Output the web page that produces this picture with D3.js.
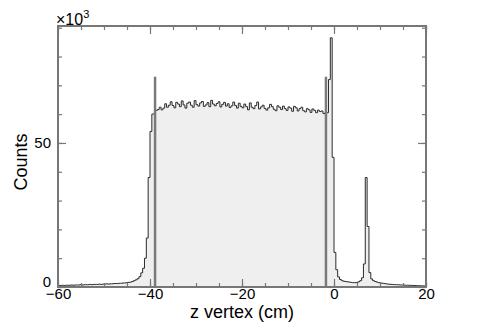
<!DOCTYPE html>
<html><head><meta charset="utf-8">
<script src="https://cdn.jsdelivr.net/npm/d3@7"></script>
<style>
html,body{margin:0;padding:0;background:#fff;}
svg{display:block;font-family:"Liberation Sans",Arial,Helvetica,sans-serif;}
</style></head>
<body><svg id="c" width="485" height="330"></svg>
<script>
// ---- data ----
const binStart = -60;      // cm, lower edge of first bin
const binWidth = 0.4;      // cm
// counts per bin, in units of 10^3
const tailLeft = [
 0.5,0.5,0.6,0.5,0.6,0.6,0.6,0.7,0.6,0.7,
 0.7,0.7,0.8,0.7,0.8,0.8,0.8,0.9,0.8,0.9,
 0.9,0.9,1.0,0.9,1.0,1.0,1.1,1.0,1.1,1.1,
 1.2,1.2,1.2,1.3,1.3,1.4,1.4,1.5,1.6,1.7
];
const edgeLeft = [1.9,2.2,2.5,2.9,3.6,4.9,6.5,10,17,38,54,60];
const plateau = [
 60.2,61.3,61.6,62.4,61.5,62.1,63.6,62.4,63.1,64.3,
 63.0,62.2,64.1,63.5,62.6,64.6,63.2,62.1,63.8,64.2,
 63.1,62.4,64.7,63.3,62.8,63.9,64.4,62.7,63.2,64.0,
 62.6,64.8,63.5,62.9,63.7,64.3,62.5,63.4,64.1,62.8,
 63.6,62.3,62.9,64.2,63.0,62.1,63.8,62.7,62.2,63.5,
 62.6,61.5,63.9,62.4,61.9,63.0,64.2,61.8,62.5,63.1,
 62.0,61.4,62.2,63.4,62.6,61.7,61.2,62.9,62.4,61.6,
 62.8,61.9,61.3,62.5,62.1,61.0,62.7,62.2,61.1,61.9,
 62.4,61.2,60.8,61.9,61.5,60.6,61.8,61.3,60.5,61.4,
 60.9,61.1,60.2,60.5
];
const peakWindow = [60.5,72,86.5,45,12,6,3.5,2.6,2.2,2.0,1.9,1.8,1.7,1.6,1.5,1.5,1.6,1.8,2.2,3.2];
const peakTarget = [8,38,21,5,2.8,2.2,1.9,1.7,1.5,1.4,1.3,1.2,1.1,1.0];
const tailRight = [0.95,0.9,0.85,0.8,0.8,0.75,0.7,0.7,0.65,0.6,
                   0.6,0.55,0.55,0.5,0.5,0.45,0.45,0.4,0.4,0.4];
const counts = [].concat(tailLeft, edgeLeft, plateau, peakWindow, peakTarget, tailRight);

const cutPositions = [-38.9, -1.75];   // cm
const cutHeight = 73;                   // 10^3 counts

const xMajorTicks = [-60,-40,-20,0,20];
const yMajorTicks = [0,50];
const xTitle = "z vertex (cm)";
const yTitle = "Counts";

// ---- drawing ----
const svg = d3.select("#c");
const L=58, R=426, T=26, B=287;
const x = d3.scaleLinear().domain([-60,20]).range([L,R]);
const y = d3.scaleLinear().domain([0,90.6]).range([B,T]);

const bins = counts.map((v,i)=>({lo: binStart+i*binWidth, v}));
bins.push({lo: binStart+counts.length*binWidth, v: counts[counts.length-1]});

const area = d3.area().curve(d3.curveStepAfter)
  .x(d=>x(d.lo)).y0(y(0)).y1(d=>y(d.v));
const line = d3.line().curve(d3.curveStepAfter)
  .x(d=>x(d.lo)).y(d=>y(d.v));

svg.append("path").attr("d", area(bins)).attr("fill","#efefef").attr("stroke","none");
svg.append("path").attr("d", line(bins)).attr("fill","none")
   .attr("stroke","#2a2a2a").attr("stroke-width",1);

svg.selectAll("line.cut").data(cutPositions).enter().append("line")
  .attr("class","cut")
  .attr("x1",d=>x(d)).attr("x2",d=>x(d))
  .attr("y1",y(0)).attr("y2",y(cutHeight))
  .attr("stroke","#7a7a7a").attr("stroke-width",2.5);

// axes (ticks drawn inward on all four sides)
const axColor = "#777";
function styleAxis(g){
  g.select(".domain").remove();
  g.selectAll(".tick line").attr("stroke",axColor).attr("stroke-width",1.2);
}
const xMinor = d3.range(-60,20.001,5);
const yMinor = d3.range(0,90.001,10);

svg.append("g").attr("transform",`translate(0,${B})`)
  .call(d3.axisBottom(x).tickValues(xMinor).tickSize(-4).tickFormat(""))
  .call(styleAxis);
svg.append("g").attr("transform",`translate(0,${B})`)
  .call(d3.axisBottom(x).tickValues(xMajorTicks).tickSize(-8).tickFormat(d3.format("d")))
  .call(styleAxis)
  .call(g=>g.selectAll("text").attr("font-size",15).attr("fill","#000")
        .attr("font-family","Liberation Sans, Arial, sans-serif").attr("dy","0.72em").attr("y",1.5));
svg.append("g").attr("transform",`translate(0,${T})`)
  .call(d3.axisTop(x).tickValues(xMinor).tickSize(-4).tickFormat(""))
  .call(styleAxis);
svg.append("g").attr("transform",`translate(0,${T})`)
  .call(d3.axisTop(x).tickValues(xMajorTicks).tickSize(-8).tickFormat(""))
  .call(styleAxis);

svg.append("g").attr("transform",`translate(${L},0)`)
  .call(d3.axisLeft(y).tickValues(yMinor).tickSize(-4).tickFormat(""))
  .call(styleAxis);
svg.append("g").attr("transform",`translate(${L},0)`)
  .call(d3.axisLeft(y).tickValues(yMajorTicks).tickSize(-8).tickFormat(d3.format("d")))
  .call(styleAxis)
  .call(g=>g.selectAll("text").attr("font-size",15).attr("fill","#000")
        .attr("font-family","Liberation Sans, Arial, sans-serif").attr("x",-7)
        .attr("dy",d=>d===0?"-0.05em":"0.32em"));
svg.append("g").attr("transform",`translate(${R},0)`)
  .call(d3.axisRight(y).tickValues(yMinor).tickSize(-4).tickFormat(""))
  .call(styleAxis);
svg.append("g").attr("transform",`translate(${R},0)`)
  .call(d3.axisRight(y).tickValues(yMajorTicks).tickSize(-8).tickFormat(""))
  .call(styleAxis);

// frame
svg.append("rect").attr("x",L).attr("y",T).attr("width",R-L).attr("height",B-T)
  .attr("fill","none").attr("stroke",axColor).attr("stroke-width",2);

// titles
svg.append("text").attr("x",(L+R)/2).attr("y",318).attr("text-anchor","middle")
  .attr("font-size",18).attr("fill","#000").text(xTitle);
svg.append("text").attr("transform","translate(27,162) rotate(-90)")
  .attr("text-anchor","middle").attr("font-size",18).attr("fill","#000").text(yTitle);

// exponent label
const ex = svg.append("text").attr("x",56).attr("y",25).attr("font-size",16).attr("fill","#000");
ex.append("tspan").text("\u00d710");
ex.append("tspan").attr("font-size",11).attr("dy",-7).text("3");
</script></body></html>
